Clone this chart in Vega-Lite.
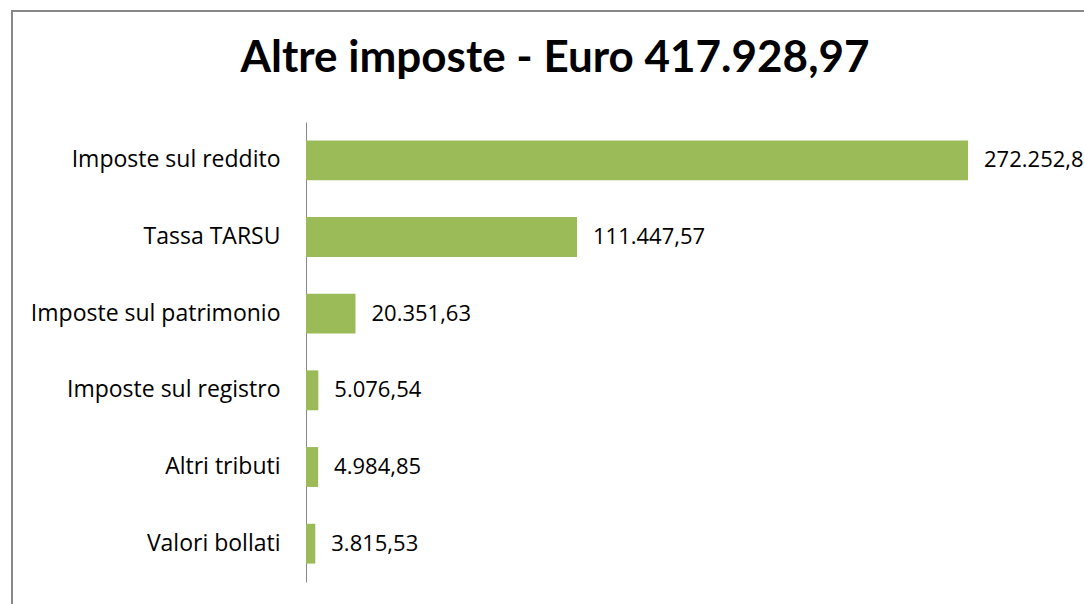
{
  "$schema": "https://vega.github.io/schema/vega-lite/v6.json",
  "width": 1086,
  "height": 600,
  "autosize": {"type": "none"},
  "padding": {"left": 12, "top": 11, "right": 0, "bottom": 0},
  "background": "white",
  "config": {
    "view": {"stroke": "#888888", "strokeWidth": 2},
    "locale": {"number": {"decimal": ",", "thousands": ".", "grouping": [3], "currency": ["€", ""]}}
  },
  "title": {
    "text": "Altre imposte - Euro 417.928,97",
    "font": "Lato",
    "fontSize": 44,
    "fontWeight": "bold",
    "color": "#000000",
    "anchor": "middle",
    "baseline": "alphabetic",
    "offset": -105
  },
  "data": {
    "values": [
      {"voce": "Imposte sul reddito", "valore": 272252.85},
      {"voce": "Tassa TARSU", "valore": 111447.57},
      {"voce": "Imposte sul patrimonio", "valore": 20351.63},
      {"voce": "Imposte sul registro", "valore": 5076.54},
      {"voce": "Altri tributi", "valore": 4984.85},
      {"voce": "Valori bollati", "valore": 3815.53}
    ]
  },
  "encoding": {
    "y": {
      "field": "voce",
      "type": "nominal",
      "sort": null,
      "scale": {"range": [111, 571], "paddingInner": 0.48, "paddingOuter": 0.24},
      "axis": {
        "title": null,
        "offset": -294,
        "domainColor": "#888888",
        "domainWidth": 1,
        "ticks": false,
        "labelPadding": 26,
        "labelFont": "Open Sans",
        "labelFontSize": 23,
        "labelColor": "#000000",
        "labelLimit": 0
      }
    },
    "x": {
      "field": "valore",
      "type": "quantitative",
      "scale": {"domain": [0, 325700], "range": [294, 1086], "nice": false, "zero": true},
      "axis": null
    }
  },
  "layer": [
    {"mark": {"type": "bar", "color": "#9BBB59"}},
    {
      "mark": {"type": "text", "align": "left", "baseline": "middle", "dx": 16, "font": "Open Sans", "fontSize": 22, "color": "#000000"},
      "encoding": {"text": {"field": "valore", "type": "quantitative", "format": ",.2f"}}
    }
  ]
}
